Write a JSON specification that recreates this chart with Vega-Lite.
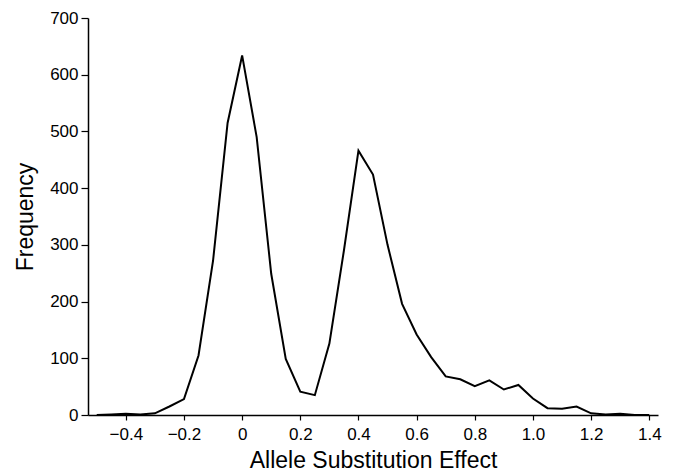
{
  "$schema": "https://vega.github.io/schema/vega-lite/v6.json",
  "width": 570,
  "height": 397,
  "autosize": "none",
  "padding": {"left": 88, "top": 18, "right": 15, "bottom": 60},
  "background": "white",
  "config": {
    "view": {"stroke": null},
    "font": "Liberation Sans",
    "axis": {"domainColor": "black", "tickColor": "black", "labelColor": "black", "titleColor": "black", "grid": false, "domainWidth": 1.5, "tickWidth": 1.2, "labelFontSize": 17, "titleFontSize": 23, "titleFontWeight": "normal", "labelFont": "Liberation Sans", "titleFont": "Liberation Sans"}
  },
  "data": {"values": [
    {"x": -0.5, "y": 0}, {"x": -0.45, "y": 1}, {"x": -0.4, "y": 2}, {"x": -0.35, "y": 1},
    {"x": -0.3, "y": 3}, {"x": -0.25, "y": 15}, {"x": -0.2, "y": 28}, {"x": -0.15, "y": 105},
    {"x": -0.1, "y": 272}, {"x": -0.05, "y": 515}, {"x": 0, "y": 634}, {"x": 0.05, "y": 490},
    {"x": 0.1, "y": 249}, {"x": 0.15, "y": 99}, {"x": 0.2, "y": 41}, {"x": 0.25, "y": 35},
    {"x": 0.3, "y": 126}, {"x": 0.35, "y": 290}, {"x": 0.4, "y": 466}, {"x": 0.45, "y": 424},
    {"x": 0.5, "y": 300}, {"x": 0.55, "y": 196}, {"x": 0.6, "y": 142}, {"x": 0.65, "y": 102},
    {"x": 0.7, "y": 68}, {"x": 0.75, "y": 63}, {"x": 0.8, "y": 51}, {"x": 0.85, "y": 61},
    {"x": 0.9, "y": 45}, {"x": 0.95, "y": 53}, {"x": 1.0, "y": 29}, {"x": 1.05, "y": 12},
    {"x": 1.1, "y": 11}, {"x": 1.15, "y": 15}, {"x": 1.2, "y": 3}, {"x": 1.25, "y": 1},
    {"x": 1.3, "y": 2}, {"x": 1.35, "y": 0}, {"x": 1.4, "y": 0}
  ]},
  "mark": {"type": "line", "color": "black", "strokeWidth": 2},
  "encoding": {
    "x": {"field": "x", "type": "quantitative", "title": "Allele Substitution Effect",
      "scale": {"domain": [-0.53, 1.43], "nice": false, "zero": false},
      "axis": {"values": [-0.4, -0.2, 0, 0.2, 0.4, 0.6, 0.8, 1.0, 1.2, 1.4], "labelExpr": "datum.value == 0 ? '0' : format(datum.value, '.1f')", "tickSize": 5, "labelPadding": 6, "titlePadding": 7}},
    "y": {"field": "y", "type": "quantitative", "title": "Frequency",
      "scale": {"domain": [0, 700], "nice": false},
      "axis": {"values": [0, 100, 200, 300, 400, 500, 600, 700], "tickSize": 7, "labelPadding": 3, "titlePadding": 12}}
  }
}
